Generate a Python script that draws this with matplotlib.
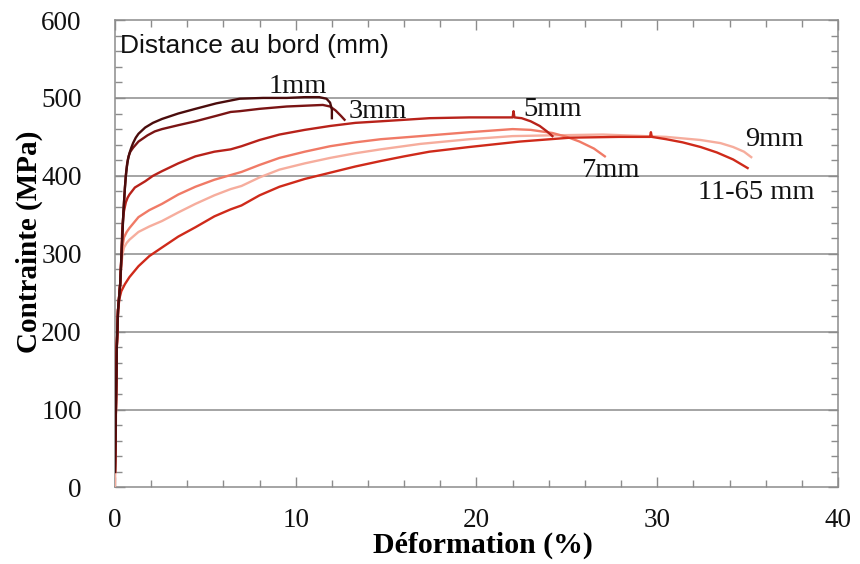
import matplotlib.pyplot as plt
from matplotlib.ticker import MultipleLocator

# courbes contrainte-deformation
eps_1mm = [0, 0.1, 0.17, 0.29, 0.4, 0.47, 0.55, 0.6, 0.66, 0.72, 0.8, 0.9, 1.0, 1.15, 1.3, 1.67,
           2.1, 2.6, 3.5, 4.45, 5.6, 6.9, 8.2, 9.5, 10.5, 11.3, 11.7, 11.9, 12.0, 12.0]
sig_1mm = [20, 180, 228, 262, 320, 355, 385, 400, 412, 421, 429, 436, 442, 449, 454, 462,
           468, 473, 480, 486, 493, 499, 500, 500, 501, 501, 499, 494, 485, 474]

eps_3mm = [0, 0.1, 0.17, 0.29, 0.4, 0.47, 0.55, 0.62, 0.68, 0.75, 0.85, 1.0, 1.15, 1.3, 1.8,
           2.2, 2.6, 3.5, 4.45, 5.6, 6.4, 6.9, 8.0, 9.5, 10.5, 11.5, 11.9, 12.2, 12.5, 12.7]
sig_3mm = [20, 180, 228, 262, 320, 355, 385, 405, 417, 425, 431, 436, 440, 444, 452,
           457, 460, 465, 470, 477, 482, 483, 486, 489, 490, 491, 489, 484, 477, 472]

eps_5mm = [0, 0.1, 0.17, 0.29, 0.36, 0.4, 0.45, 0.5, 0.6, 0.7, 0.8, 1.1, 1.67, 2.1, 2.6, 3.5,
           4.45, 5.5, 6.4, 7.0, 8.0, 9.1, 10.5, 11.9, 13.3, 14.7, 17.4, 19.6, 22.0, 22.05,
           22.1, 22.5, 23.0, 23.5, 23.9, 24.2]
sig_5mm = [20, 180, 228, 262, 300, 330, 346, 355, 366, 372, 376, 385, 393, 400, 406, 416,
           425, 431, 434, 438, 446, 453, 459, 464, 468, 470, 474, 475, 475, 483,
           475, 474, 470, 464, 457, 451]

eps_7mm = [0, 0.1, 0.17, 0.29, 0.35, 0.42, 0.5, 0.65, 0.8, 1.3, 1.9, 2.6, 3.5, 4.45, 5.5, 6.4,
           7.0, 8.0, 9.1, 10.5, 11.9, 13.3, 14.7, 16.9, 19.6, 22.0, 23.0, 24.2, 25.0, 25.7,
           26.5, 27.1]
sig_7mm = [20, 180, 228, 262, 290, 310, 321, 328, 333, 347, 356, 364, 376, 386, 395, 401,
           405, 414, 423, 431, 438, 443, 447, 451, 456, 460, 459, 455, 450, 444,
           435, 425]

eps_9mm = [0, 0.05, 0.1, 0.17, 0.29, 0.35, 0.42, 0.5, 0.65, 0.8, 1.3, 1.9, 2.6, 3.5, 4.45,
           5.5, 6.4, 7.0, 8.0, 9.1, 10.5, 11.9, 13.3, 14.7, 16.9, 19.6, 22.0, 24.2, 27.0,
           30.5, 32.4, 33.5, 34.2, 34.8, 35.2]
sig_9mm = [0, 80, 180, 228, 262, 285, 300, 308, 314, 318, 328, 335, 342, 353, 364,
           375, 383, 387, 398, 408, 416, 423, 429, 434, 441, 447, 451, 452, 453,
           450, 446, 442, 437, 431, 424]

eps_11mm = [0, 0.1, 0.17, 0.25, 0.35, 0.55, 0.8, 1.3, 1.9, 2.6, 3.5, 4.45, 5.5, 6.4, 7.0,
            8.0, 9.1, 10.5, 11.9, 13.3, 14.7, 16.0, 17.4, 19.6, 22.4, 25.2, 27.9, 29.6,
            29.65, 29.7, 30.5, 31.4, 32.4, 33.3, 34.2, 35.0]
sig_11mm = [20, 180, 228, 243, 252, 261, 270, 284, 297, 308, 322, 334, 348, 357, 362,
            375, 386, 396, 404, 412, 419, 425, 431, 437, 444, 449, 450, 450,
            456, 450, 447, 443, 437, 430, 421, 410]

noms = ["1mm", "3mm", "5mm", "7mm", "9mm", "11-65 mm"]
couleurs = ["#4a0c0c", "#7a1414", "#b8221a", "#f07a66", "#f6ad9d", "#cf2a1a"]
courbes = [(eps_1mm, sig_1mm), (eps_3mm, sig_3mm), (eps_5mm, sig_5mm),
           (eps_7mm, sig_7mm), (eps_9mm, sig_9mm), (eps_11mm, sig_11mm)]
# position des etiquettes (deformation, contrainte)
pos_etiquettes = [(10.1, 515), (14.55, 482), (24.2, 485), (27.4, 407), (36.5, 447), (35.5, 379)]

fig = plt.figure(figsize=(8.6, 5.64), dpi=100)
ax = fig.add_axes([0.1337, 0.1357, 0.8407, 0.8288])

gris = "#8c8c8c"
for yg in [100, 200, 300, 400, 500]:
    ax.axhline(yg, color=gris, lw=1.1, zorder=1)

# dessiner de la plus basse a la plus haute
for i in [4, 3, 5, 2, 1, 0]:
    e, s = courbes[i]
    ax.plot(e, s, color=couleurs[i], lw=1.7, solid_joinstyle="round", zorder=3)

for nom, (xt, yt) in zip(noms, pos_etiquettes):
    ax.text(xt, yt, nom, family="Liberation Serif", fontsize=20.5,
            ha="center", va="center", color="#111111", zorder=4)

ax.text(0.28, 567, "Distance au bord (mm)", family="Liberation Sans", fontsize=19,
        ha="left", va="center", color="#111111")

ax.set_xlim(0, 40)
ax.set_ylim(0, 600)
ax.xaxis.set_major_locator(MultipleLocator(10))
ax.xaxis.set_minor_locator(MultipleLocator(2))
ax.yaxis.set_major_locator(MultipleLocator(100))
ax.yaxis.set_minor_locator(MultipleLocator(20))
ax.tick_params(which="both", direction="in", top=True, right=True, colors=gris,
               labelcolor="#111111", width=1)
ax.tick_params(which="major", length=7, labelsize=19.5)
ax.tick_params(which="minor", length=5)
ax.tick_params(axis="x", which="major", pad=15)
ax.tick_params(axis="y", which="major", pad=24)
for lab in ax.get_xticklabels() + ax.get_yticklabels():
    lab.set_family("Liberation Serif")
for sp in ax.spines.values():
    sp.set_color(gris)
    sp.set_linewidth(1.1)

ax.set_xlabel("Déformation (%)", family="Liberation Serif", fontsize=21.5,
              fontweight="bold")
ax.xaxis.set_label_coords(0.509, -0.094)
ax.set_ylabel("Contrainte (MPa)", family="Liberation Serif", fontsize=21,
              fontweight="bold")
ax.yaxis.set_label_coords(-0.100, 0.525)

fig.savefig("out.png", dpi=100)
